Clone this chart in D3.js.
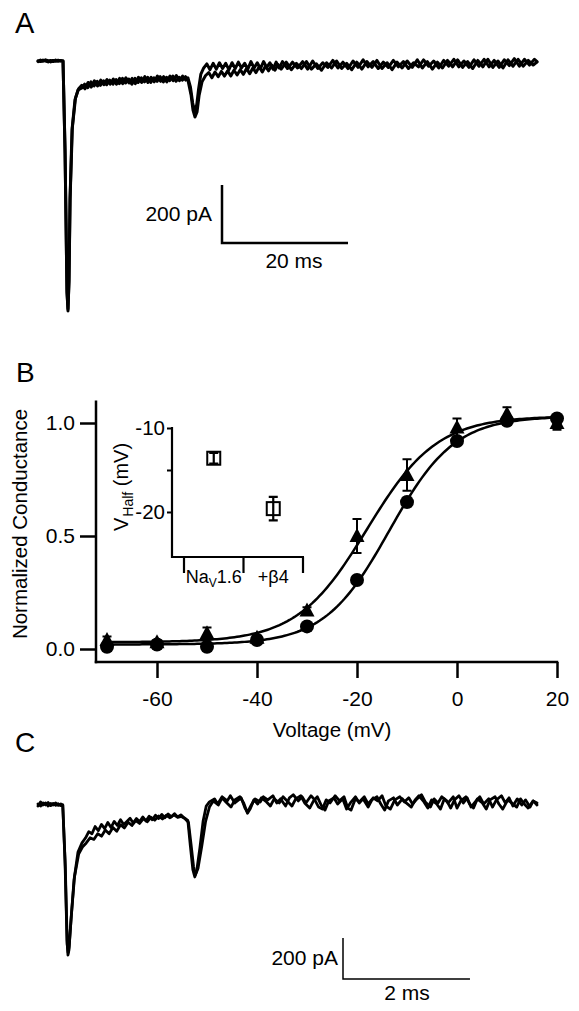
<!DOCTYPE html>
<html><head><meta charset="utf-8">
<script src="https://cdn.jsdelivr.net/npm/d3@7"></script>
<style>body{margin:0;background:#fff}svg{display:block}text{font-family:"Liberation Sans",Arial,sans-serif;fill:#000}</style>
</head><body>
<script>
// ---------------- DATA ----------------
// Panel A traces: [time ms, current pA]
const traceA1 = [[0,-2],[0.4,3],[0.8,-1],[1.2,4],[1.6,1],[2,-3],[2.4,2],[2.8,-1],[3.2,3],[3.6,0],[3.97,0],
[4.29,-307],[4.6,-790],[4.76,-862],[4.92,-755],[5.08,-480],[5.4,-238],[5.87,-134],[6.35,-100],
[6.9,-94],[7.4,-80],[7.9,-92],[8.4,-72],[8.9,-86],[9.4,-70],[9.9,-84],[10.4,-68],[10.9,-82],[11.4,-66],[11.9,-80],[12.4,-64],[12.9,-78],[13.4,-60],[13.9,-76],[14.4,-62],[14.9,-80],[15.4,-60],[15.9,-74],[16.4,-58],[16.9,-72],[17.4,-56],[17.9,-74],[18.4,-58],[18.9,-70],[19.4,-54],[19.9,-72],[20.4,-56],[20.9,-68],[21.4,-52],[21.9,-70],[22.4,-56],[22.9,-66],[23.4,-54],[23.8,-66],
[24.29,-117],[24.6,-169],[24.92,-193],[25.24,-176],[25.56,-120],[26.03,-72],
[26.6,-50],[27.1,-40],[27.6,-58],[28.1,-38],[28.6,-54],[29.1,-36],[29.6,-52],[30.1,-34],[30.6,-52],[31.1,-32],[31.6,-48],[32.1,-30],[32.6,-46],[33.1,-26],[33.6,-44],[34.1,-24],[34.6,-40],[35.1,-20],[35.6,-38],[36.1,-18],[36.6,-34],[37.1,-14],[37.6,-32],[38.1,-12],[38.6,-28],
[39.4,-4],[40.2,-30],[41,-8],[41.8,-26],[42.6,-2],[43.4,-28],[44.2,-10],[45,-32],[45.8,-6],[46.6,-24],[47.4,0],[48.2,-26],[49,-8],[49.8,-30],[50.6,-4],[51.4,-28],[52.2,-2],[53,-22],[53.8,2],[54.6,-26],[55.4,-6],[56.2,-30],[57,-4],[57.8,-24],[58.6,0],[59.4,-22],[60.2,4],[61,-24],[61.8,-2],[62.6,-28],[63.4,-4],[64.2,-24],[65,2],[65.8,-20],[66.6,4],[67.4,-22],[68.2,-2],[69,-26],[69.8,2],[70.6,-20],[71.4,6],[72.2,-22],[73,0],[73.8,-24],[74.6,4],[75.4,-18],[76.2,6],[77,-18],[77.8,2],[78.6,-14],[79.2,-4]];
const traceA2 = [[0,1],[0.4,-2],[0.8,3],[1.2,0],[1.6,-3],[2,2],[2.4,-2],[2.8,3],[3.2,-1],[3.6,2],[3.97,0],
[4.3,-320],[4.6,-800],[4.76,-855],[4.92,-760],[5.1,-470],[5.45,-230],[5.95,-128],[6.45,-96],
[6.95,-84],[7.45,-96],[7.95,-74],[8.45,-90],[8.95,-68],[9.45,-86],[9.95,-66],[10.45,-82],[10.95,-64],[11.45,-80],[11.95,-62],[12.45,-80],[12.95,-60],[13.45,-78],[13.95,-58],[14.45,-76],[14.95,-60],[15.45,-78],[15.95,-56],[16.45,-74],[16.95,-54],[17.45,-74],[17.95,-56],[18.45,-72],[18.95,-52],[19.45,-70],[19.95,-54],[20.45,-72],[20.95,-52],[21.45,-68],[21.95,-50],[22.45,-68],[22.95,-52],[23.45,-66],[23.8,-58],
[24.2,-90],[24.55,-145],[24.88,-175],[25.2,-150],[25.5,-95],[25.85,-45],
[26.3,-24],[26.8,-10],[27.3,-30],[27.8,-8],[28.3,-28],[28.8,-6],[29.3,-26],[29.8,-8],[30.3,-30],[30.8,-6],[31.3,-26],[31.8,-4],[32.3,-24],[32.8,-8],[33.3,-28],[33.8,-2],[34.3,-24],[34.8,-6],[35.3,-26],[35.8,-2],[36.3,-22],[36.8,-6],[37.3,-28],[37.8,-4],[38.3,-24],[38.8,-2],
[39.6,-26],[40.4,-4],[41.2,-24],[42,-2],[42.8,-28],[43.6,0],[44.4,-26],[45.2,-6],[46,-22],[46.8,2],[47.6,-24],[48.4,-4],[49.2,-26],[50,0],[50.8,-22],[51.6,4],[52.4,-20],[53.2,-2],[54,-26],[54.8,-4],[55.6,-22],[56.4,2],[57.2,-20],[58,-2],[58.8,-26],[59.6,-6],[60.4,-20],[61.2,4],[62,-18],[62.8,0],[63.6,-24],[64.4,2],[65.2,-18],[66,6],[66.8,-20],[67.6,0],[68.4,-22],[69.2,4],[70,-18],[70.8,6],[71.6,-20],[72.4,2],[73.2,-22],[74,4],[74.8,-16],[75.6,8],[76.4,-18],[77.2,6],[78,-14],[78.8,6],[79.2,-2]];

// Panel C traces: [time ms, current pA]
const traceC1 = [[0,-5],[0.04,15],[0.08,0],[0.12,10],[0.16,-5],[0.2,8],[0.24,0],[0.28,10],[0.32,-2],[0.36,5],[0.39,0],
[0.425,-268],[0.457,-659],[0.472,-732],[0.488,-707],[0.52,-561],[0.567,-366],[0.63,-229],[0.693,-185],[0.75,-160],[0.8,-130],[0.85,-140],[0.9,-105],[0.95,-125],[1.0,-95],[1.05,-115],[1.1,-85],[1.15,-110],[1.2,-80],[1.25,-100],[1.3,-72],[1.35,-95],[1.4,-80],[1.45,-65],[1.5,-88],[1.55,-66],[1.6,-82],[1.65,-58],[1.7,-78],[1.75,-55],[1.8,-72],[1.85,-50],[1.9,-66],[1.95,-46],[2.0,-62],[2.05,-44],[2.1,-58],[2.15,-42],[2.2,-58],[2.25,-48],[2.3,-62],[2.36,-75],
[2.4,-200],[2.44,-317],[2.47,-351],[2.5,-320],[2.55,-210],[2.6,-80],[2.65,-5],[2.7,15],
[2.78,30],[2.83,5],[2.9,40],[2.98,20],[3.03,45],[3.1,10],[3.2,35],[3.26,-15],[3.3,-35],[3.36,0],[3.42,30],[3.5,15],[3.55,40],[3.62,25],[3.7,45],[3.76,10],[3.82,30],[3.9,-5],[3.96,35],[4.02,50],[4.1,20],[4.16,40],[4.22,10],[4.3,45],[4.36,25],[4.42,-10],[4.48,-20],[4.54,25],[4.6,10],[4.68,45],[4.75,20],[4.82,40],[4.88,-15],[4.93,-25],[5.0,30],[5.06,15],[5.14,40],[5.2,5],[5.28,35],[5.35,20],[5.42,45],[5.48,-5],[5.55,-20],[5.62,25],[5.7,40],[5.77,15],[5.84,35],[5.9,5],[5.97,30],[6.04,50],[6.1,15],[6.18,-10],[6.24,30],[6.3,10],[6.36,40],[6.44,20],[6.5,-15],[6.56,25],[6.63,45],[6.7,10],[6.76,35],[6.82,-10],[6.9,20],[6.96,40],[7.02,5],[7.1,30],[7.16,-10],[7.22,25],[7.3,45],[7.36,10],[7.42,35],[7.48,-5],[7.55,30],[7.62,0],[7.68,25],[7.75,-10],[7.8,20],[7.86,10]];
const traceC2 = [[0,5],[0.04,-5],[0.08,10],[0.12,0],[0.16,12],[0.2,-3],[0.24,8],[0.28,-2],[0.32,6],[0.36,-3],[0.39,0],
[0.43,-300],[0.46,-680],[0.475,-720],[0.49,-690],[0.525,-540],[0.575,-350],[0.64,-240],[0.7,-205],[0.76,-185],[0.82,-160],[0.88,-168],[0.94,-140],[1.0,-152],[1.06,-122],[1.12,-140],[1.18,-110],[1.24,-128],[1.3,-96],[1.36,-112],[1.42,-84],[1.48,-100],[1.54,-76],[1.6,-90],[1.66,-66],[1.72,-82],[1.78,-60],[1.84,-74],[1.9,-54],[1.96,-68],[2.02,-50],[2.08,-62],[2.14,-48],[2.2,-60],[2.26,-56],[2.32,-68],[2.37,-85],
[2.41,-190],[2.45,-300],[2.48,-340],[2.52,-310],[2.58,-200],[2.64,-80],[2.7,-10],[2.76,20],
[2.84,0],[2.9,35],[2.96,15],[3.04,-10],[3.1,25],[3.18,40],[3.24,10],[3.3,-40],[3.34,-20],[3.4,25],[3.46,5],[3.52,35],[3.6,15],[3.66,-5],[3.72,30],[3.8,10],[3.86,40],[3.94,15],[4.0,-5],[4.06,30],[4.14,45],[4.2,10],[4.28,-15],[4.34,20],[4.4,40],[4.46,0],[4.52,-25],[4.58,20],[4.66,35],[4.72,5],[4.8,30],[4.86,-20],[4.92,10],[5.0,40],[5.06,10],[5.12,30],[5.2,-10],[5.26,25],[5.34,40],[5.4,5],[5.46,-25],[5.52,20],[5.6,35],[5.66,0],[5.74,30],[5.8,10],[5.88,-10],[5.94,25],[6.0,45],[6.08,15],[6.14,-15],[6.2,25],[6.28,5],[6.34,-20],[6.4,30],[6.46,10],[6.54,40],[6.6,-15],[6.66,20],[6.74,40],[6.8,5],[6.86,-15],[6.92,30],[7.0,10],[7.06,-20],[7.12,25],[7.2,40],[7.26,5],[7.32,-20],[7.4,25],[7.46,10],[7.54,-10],[7.6,30],[7.66,5],[7.72,-15],[7.8,20],[7.86,0]];

// Panel B: conductance-voltage
const voltages = [-70,-60,-50,-40,-30,-20,-10,0,10,20];
const gNav16 = [0.01,0.02,0.01,0.04,0.10,0.305,0.65,0.92,1.01,1.02];       // circles
const gNav16Err = [0.01,0.01,0.01,0.01,0.01,0.015,0.02,0.015,0.01,0.01];
const gBeta4 = [0.04,0.03,0.07,0.05,0.17,0.50,0.77,0.98,1.04,1.00];       // triangles
const gBeta4Err = [0.015,0.01,0.025,0.01,0.015,0.075,0.07,0.04,0.03,0.03];
// Boltzmann fit parameters: [bottom, top, Vhalf, slope]
const fitNav16 = [0.02, 1.03, -13.5, 6.5];
const fitBeta4 = [0.03, 1.03, -18, 7];
const yTicksB = [0, 0.5, 1.0];
const xTicksB = [-60, -40, -20, 0, 20];

// Inset: V-half
const insetGroups = ["NaV1.6", "+β4"];
const vHalf = [-13.6, -19.6];
const vHalfErr = [0.65, 1.4];
const insetTicks = [-10, -15, -20];

// ---------------- DRAW ----------------
const W = 579, H = 1011;
const FONT = '"Liberation Sans",Arial,sans-serif';
const svg = d3.select("body").append("svg").attr("width", W).attr("height", H);
svg.append("rect").attr("width", W).attr("height", H).attr("fill", "#fff");

const panelLabel = (t, x, y, s) => svg.append("text").attr("x", x).attr("y", y).attr("font-size", s).text(t);
panelLabel("A", 15, 33, 29);
panelLabel("B", 16, 382, 28);
panelLabel("C", 15, 752, 28);

// ---- Panel A ----
const xA = d3.scaleLinear().domain([0, 79.2]).range([38, 537]);
const yA = d3.scaleLinear().domain([0, -200]).range([61, 119]);
const lineA = d3.line().x(d => xA(d[0])).y(d => yA(d[1]));
const gA = svg.append("g");
[traceA1, traceA2].forEach(tr => gA.append("path").attr("d", lineA(tr)).attr("fill", "none")
  .attr("stroke", "#000").attr("stroke-width", 3).attr("stroke-linejoin", "round").attr("stroke-linecap", "round"));
{
  const bx = 222, by = 243;
  const lenX = xA(20) - xA(0), lenY = yA(-200) - yA(0);
  gA.append("path").attr("d", `M${bx},${by - lenY}V${by}H${bx + lenX}`).attr("fill", "none")
    .attr("stroke", "#000").attr("stroke-width", 2.5);
  gA.append("text").attr("x", 212).attr("y", 221).attr("text-anchor", "end").attr("font-size", 21).text("200 pA");
  gA.append("text").attr("x", 294).attr("y", 268).attr("text-anchor", "middle").attr("font-size", 21).text("20 ms");
}

// ---- Panel B ----
const xB = d3.scaleLinear().domain([-70, 20]).range([107, 557]);
const yB = d3.scaleLinear().domain([0, 1]).range([649, 423]);
const gB = svg.append("g");
const yAxB = d3.axisLeft(yB).tickValues(yTicksB).tickSize(16).tickPadding(5).tickFormat(d => d.toFixed(1));
const xAxB = d3.axisBottom(xB).tickValues(xTicksB).tickSize(16).tickPadding(13).tickFormat(d => String(d));
const axY = gB.append("g").attr("transform", `translate(${xB(-72.2)},0)`).call(yAxB);
const axX = gB.append("g").attr("transform", `translate(0,${yB(-0.0575)})`).call(xAxB);
[axY, axX].forEach(a => {
  a.select(".domain").remove();
  a.selectAll(".tick line").attr("stroke", "#000").attr("stroke-width", 2.5);
  a.selectAll(".tick text").attr("font-size", 21).attr("font-family", FONT).attr("fill", "#000");
});
gB.append("line").attr("x1", xB(-72.2)).attr("x2", xB(-72.2)).attr("y1", yB(1.1)).attr("y2", yB(-0.0575) + 1.25)
  .attr("stroke", "#000").attr("stroke-width", 2.5);
gB.append("line").attr("x1", xB(-72.2) - 1.25).attr("x2", xB(20) + 1.25).attr("y1", yB(-0.0575)).attr("y2", yB(-0.0575))
  .attr("stroke", "#000").attr("stroke-width", 2.5);
gB.append("text").attr("x", 332).attr("y", 737).attr("text-anchor", "middle").attr("font-size", 20.5).text("Voltage (mV)");
gB.append("text").attr("transform", "translate(27,524) rotate(-90)").attr("text-anchor", "middle").attr("font-size", 20.5).text("Normalized Conductance");

const boltz = (p, v) => p[0] + (p[1] - p[0]) / (1 + Math.exp((p[2] - v) / p[3]));
const vGrid = d3.range(-70, 20.01, 0.5);
const lineB = d3.line().x(d => xB(d[0])).y(d => yB(d[1]));
[fitNav16, fitBeta4].forEach(p => gB.append("path").attr("d", lineB(vGrid.map(v => [v, boltz(p, v)])))
  .attr("fill", "none").attr("stroke", "#000").attr("stroke-width", 2.5));

function errBars(g, xs, ys, es, xsc, ysc, cap, sw) {
  xs.forEach((x, i) => {
    const px = xsc(x), y1 = ysc(ys[i] + es[i]), y2 = ysc(ys[i] - es[i]);
    g.append("path").attr("d", `M${px},${y1}V${y2}M${px - cap / 2},${y1}H${px + cap / 2}M${px - cap / 2},${y2}H${px + cap / 2}`)
      .attr("stroke", "#000").attr("stroke-width", sw).attr("fill", "none");
  });
}
errBars(gB, voltages, gBeta4, gBeta4Err, xB, yB, 9, 2);
gB.selectAll("path.tri").data(voltages).enter().append("path").attr("class", "tri")
  .attr("d", "M0,-8L7.5,6L-7.5,6Z")
  .attr("transform", (v, i) => `translate(${xB(v)},${yB(gBeta4[i])})`).attr("fill", "#000");
errBars(gB, voltages, gNav16, gNav16Err, xB, yB, 9, 2);
gB.selectAll("circle.dot").data(voltages).enter().append("circle").attr("class", "dot")
  .attr("cx", v => xB(v)).attr("cy", (v, i) => yB(gNav16[i])).attr("r", 7).attr("fill", "#000");

// ---- Inset ----
const yI = d3.scaleLinear().domain([-25.36, -10]).range([557, 428]);
const xI = d3.scaleBand().domain(insetGroups).range([184, 303]).paddingInner(0).paddingOuter(0);
const gI = svg.append("g");
const axIY = gI.append("g").attr("transform", "translate(172,0)")
  .call(d3.axisLeft(yI).tickValues(insetTicks).tickSize(5).tickPadding(2).tickFormat(d => d % 10 === 0 ? String(d) : ""));
axIY.select(".domain").remove();
axIY.selectAll(".tick line").attr("stroke", "#000").attr("stroke-width", 2);
axIY.selectAll(".tick text").attr("font-size", 20.5).attr("font-family", FONT).attr("fill", "#000");
gI.append("line").attr("x1", 172).attr("x2", 172).attr("y1", yI(-10) - 1).attr("y2", yI(-25.36) + 1).attr("stroke", "#000").attr("stroke-width", 2.2);
gI.append("line").attr("x1", 171).attr("x2", 304).attr("y1", yI(-25.36)).attr("y2", yI(-25.36)).attr("stroke", "#000").attr("stroke-width", 2.2);
const sepX = [xI.range()[0]].concat(insetGroups.map(g => xI(g) + xI.bandwidth()));
sepX.forEach(x => gI.append("line").attr("x1", x).attr("x2", x).attr("y1", yI(-25.36)).attr("y2", yI(-25.36) + 16)
  .attr("stroke", "#000").attr("stroke-width", 2.2));
const lab0 = gI.append("text").attr("x", xI(insetGroups[0]) + xI.bandwidth() / 2).attr("y", 583).attr("text-anchor", "middle").attr("font-size", 18);
lab0.append("tspan").text("Na");
lab0.append("tspan").attr("font-size", 12).attr("dy", 4).text("V");
lab0.append("tspan").attr("dy", -4).text("1.6");
gI.append("text").attr("x", xI(insetGroups[1]) + xI.bandwidth() / 2).attr("y", 583).attr("text-anchor", "middle").attr("font-size", 18).text(insetGroups[1]);
const yl = gI.append("text").attr("transform", "translate(128,487) rotate(-90)").attr("text-anchor", "middle").attr("font-size", 20);
yl.append("tspan").text("V");
yl.append("tspan").attr("font-size", 14).attr("dy", 5).attr("dx", 1).text("Half");
yl.append("tspan").attr("dy", -5).text(" (mV)");
insetGroups.forEach((g, i) => {
  const cx = xI(g) + xI.bandwidth() / 2, cy = yI(vHalf[i]);
  gI.append("rect").attr("x", cx - 6.5).attr("y", cy - 6.5).attr("width", 13).attr("height", 13)
    .attr("fill", "#fff").attr("stroke", "#000").attr("stroke-width", 2);
});
errBars(gI, insetGroups, vHalf, vHalfErr, g => xI(g) + xI.bandwidth() / 2, yI, 9, 2.2);

// ---- Panel C ----
const xC = d3.scaleLinear().domain([0, 7.86]).range([38, 537]);
const yC = d3.scaleLinear().domain([0, -200]).range([805, 846]);
const lineC = d3.line().x(d => xC(d[0])).y(d => yC(d[1]));
const gC = svg.append("g");
[traceC1, traceC2].forEach(tr => gC.append("path").attr("d", lineC(tr)).attr("fill", "none")
  .attr("stroke", "#000").attr("stroke-width", 2.8).attr("stroke-linejoin", "round").attr("stroke-linecap", "round"));
{
  const bx = 343, by = 979;
  const lenX = xC(2) - xC(0), lenY = yC(-200) - yC(0);
  gC.append("path").attr("d", `M${bx},${by - lenY}V${by}H${bx + lenX}`).attr("fill", "none")
    .attr("stroke", "#000").attr("stroke-width", 1.5);
  gC.append("text").attr("x", 338).attr("y", 965).attr("text-anchor", "end").attr("font-size", 21).text("200 pA");
  gC.append("text").attr("x", 407).attr("y", 1000).attr("text-anchor", "middle").attr("font-size", 21).text("2 ms");
}
</script>
</body></html>
